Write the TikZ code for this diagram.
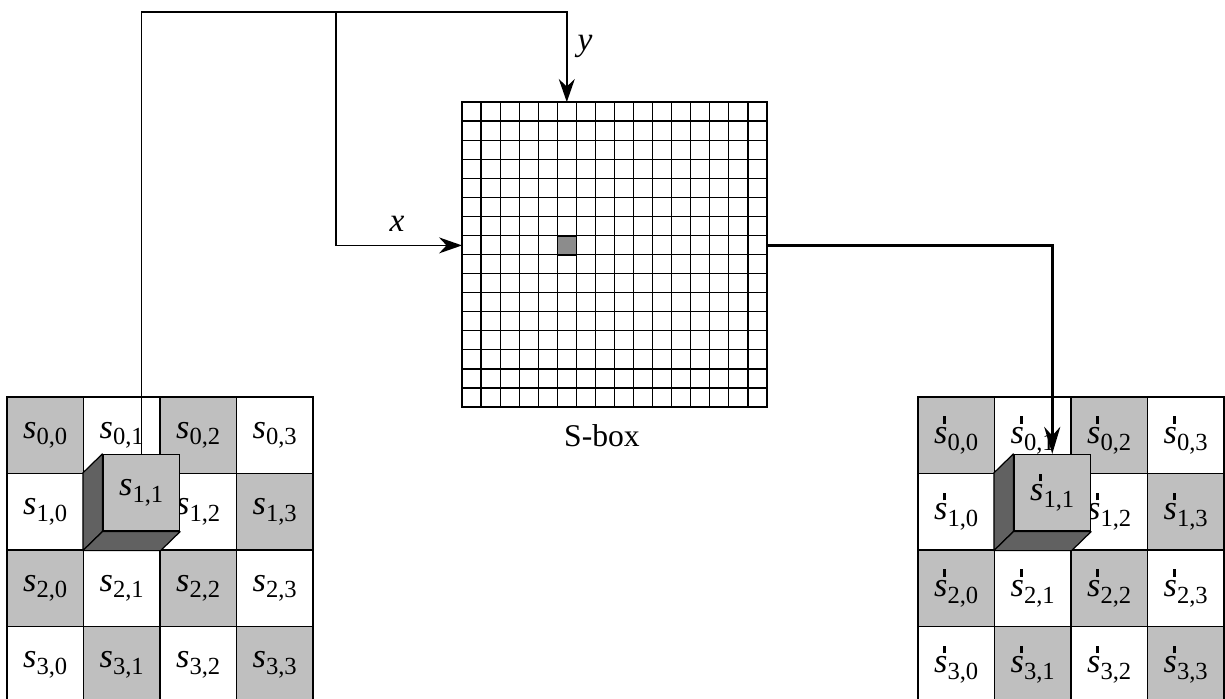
\documentclass[tikz,border=0pt]{standalone}
\usepackage{fontspec}
\setmainfont{Liberation Serif}
\usetikzlibrary{arrows.meta, positioning, calc}
\colorlet{cellgray}{black!25}
\colorlet{sidegray}{black!62}
\colorlet{hitgray}{black!45}
\newcommand{\scell}[2]{\textit{s}\raisebox{-0.2em}{\fontsize{14}{14}\selectfont #1,#2}}
\newcommand{\pcell}[2]{\makebox[0pt][l]{\hspace{0.27em}\raisebox{0.57em}{\rule{0.08em}{0.22em}}}\scell{#1}{#2}}
\tikzset{
    statecell/.style={rectangle, draw=black, line width=0.7pt, minimum size=1.53cm, inner sep=0pt, font=\fontsize{19.5}{22}\selectfont},
    cubeface/.style={statecell, fill=cellgray},
    cubeside/.style={draw=black, line width=0.7pt, fill=sidegray, line join=round},
    sboxline/.style={line width=0.7pt},
    feedline/.style={line width=0.8pt},
    feedarrow/.style={feedline, -{Stealth[length=4.6mm,width=3.2mm]}},
    outarrow/.style={line width=2pt, -{Stealth[length=5.4mm,width=3.2mm]}},
    varlabel/.style={font=\fontsize{19}{22}\selectfont\itshape}
}
\begin{document}
\begin{tikzpicture}[x=0.02cm, y=-0.02cm]
    \useasboundingbox (0,0) rectangle (1225,698);

    % State before and after substitution
    \foreach \i in {0,...,3}{
        \foreach \j in {0,...,3}{
            \pgfmathtruncatemacro{\odd}{mod(\i+\j,2)}
            \ifnum\odd=0 \def\cellfill{cellgray}\else\def\cellfill{white}\fi
            \node[statecell, fill=\cellfill] (L-\i-\j) at ({7+76.5*(\j+0.5)}, {397+76.5*(\i+0.5)}) {\scell{\i}{\j}};
            \node[statecell, fill=\cellfill] (R-\i-\j) at ({918+76.5*(\j+0.5)}, {397+76.5*(\i+0.5)}) {\pcell{\i}{\j}};
        }
    }

    % Raised byte s_{1,1}
    \node[cubeface] (Lcube) at ($(L-1-1)+(19.5,-19)$) {\scell{1}{1}};
    \draw[cubeside] (L-1-1.north west) -- (Lcube.north west) -- (Lcube.south west) -- (L-1-1.south west) -- cycle;
    \draw[cubeside] (L-1-1.south west) -- (Lcube.south west) -- (Lcube.south east) -- (L-1-1.south east) -- cycle;
    \node[cubeface] (Rcube) at ($(R-1-1)+(19.5,-19)$) {\pcell{1}{1}};
    \draw[cubeside] (R-1-1.north west) -- (Rcube.north west) -- (Rcube.south west) -- (R-1-1.south west) -- cycle;
    \draw[cubeside] (R-1-1.south west) -- (Rcube.south west) -- (Rcube.south east) -- (R-1-1.south east) -- cycle;

    % S-box table, 16 x 16
    \node[draw, sboxline, minimum size=6.1cm, inner sep=0pt, outer sep=0pt] (sbox) at (614.5,254.5) {};
    \foreach \k in {1,...,15}{
        \draw[sboxline] ({462+\k*19.0625},102) -- ({462+\k*19.0625},407);
        \draw[sboxline] (462,{102+\k*19.0625}) -- (767,{102+\k*19.0625});
    }
    \node[draw, sboxline, fill=hitgray, minimum size=0.381cm, inner sep=0pt, outer sep=0pt] (hit) at (566.8,245.4) {};
    \node (sboxlbl) at (602,436) {\fontsize{18}{22}\selectfont S-box};

    % Row and column lookup
    \coordinate (split) at (336,12);
    \coordinate (yin) at (hit |- sbox.north);
    \coordinate (xin) at (hit -| sbox.west);
    \draw[feedline] (Lcube.north) |- (split);
    \draw[feedarrow] (split) -| (yin);
    \draw[feedarrow] (split) |- (xin);
    \node[varlabel] (xlbl) at (397,224) {x};
    \node[varlabel] (ylbl) at (585,46) {y};

    % Substituted byte
    \draw[outarrow] (hit -| sbox.east) -| (Rcube.north);
\end{tikzpicture}
\end{document}
